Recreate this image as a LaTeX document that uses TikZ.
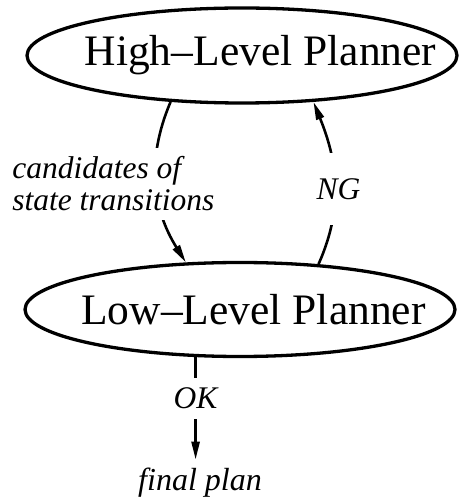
\documentclass[tikz,border=0pt]{standalone}
\usepackage{fontspec}
\setmainfont{Liberation Serif}
\usetikzlibrary{shapes.geometric,arrows.meta}

\begin{document}
\begin{tikzpicture}[x=1pt,y=1pt,
  planner/.style={draw, ellipse, line width=3.3pt, minimum width=430pt, minimum height=95pt, inner sep=0pt},
  title/.style={font=\fontsize{43.5}{50}\selectfont},
  lbl/.style={font=\fontsize{31.5}{32}\selectfont\itshape, fill=white, inner xsep=3pt, inner ysep=9pt},
  flow/.style={line width=2.6pt, -{Triangle[length=18pt,width=8pt]}}]
  \useasboundingbox (0,0) rectangle (459,504);
  % planners
  \node[planner, label={[title, xshift=18.5pt]center:High--Level Planner}] (high) at (242,448.5) {};
  \node[planner, minimum height=94pt, label={[title, xshift=13.5pt]center:Low--Level Planner}] (low) at (240,194.5) {};
  % loop between the planners
  \draw[flow] (high.213) to[out=247, in=122] node[lbl, align=left, xshift=-43pt] {candidates of\\state transitions} (low.139);
  \draw[flow] (low.30) to[out=66, in=292] node[lbl, minimum height=72pt, xshift=4pt, yshift=-6pt] {NG} (high.327);
  % result
  \node[font=\fontsize{32}{36}\selectfont\itshape, inner sep=8pt] (plan) at (200,21.5) {final plan};
  \draw[flow] (low.227) -- node[lbl, pos=0.4, inner ysep=10pt] {OK} (low.227 |- plan.north);
\end{tikzpicture}
\end{document}
